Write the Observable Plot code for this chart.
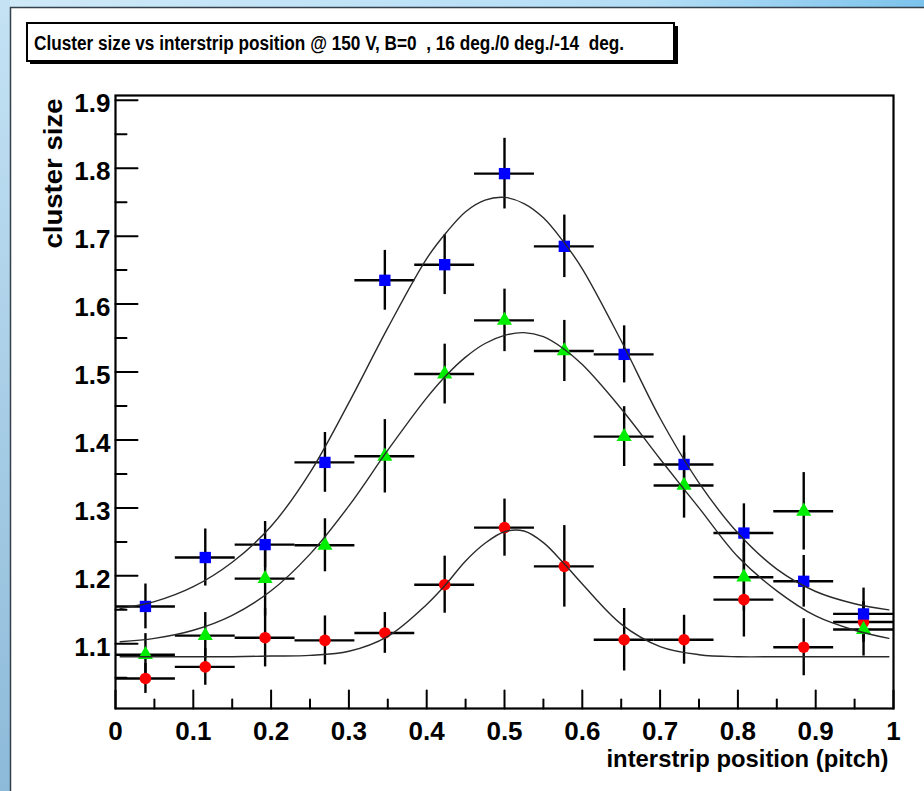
<!DOCTYPE html>
<html><head><meta charset="utf-8">
<script src="https://cdn.jsdelivr.net/npm/d3@7"></script>
<script src="https://cdn.jsdelivr.net/npm/@observablehq/plot@0.6"></script>
<style>
html,body{margin:0;padding:0;background:#fff;}
#chart{position:relative;width:924px;height:791px;overflow:hidden;}
</style></head><body><div id="chart"></div>
<script>
// ---- text ----
const titleText = "Cluster size vs interstrip position @ 150 V, B=0  , 16 deg./0 deg./-14  deg.";
const xTitle = "interstrip position (pitch)";
const yTitle = "cluster size";

// ---- ticks ----
const xMajor = [0, 0.1, 0.2, 0.3, 0.4, 0.5, 0.6, 0.7, 0.8, 0.9, 1.0];
const xTickLabels = ["0", "0.1", "0.2", "0.3", "0.4", "0.5", "0.6", "0.7", "0.8", "0.9", "1"];
const xMinor = [0.05, 0.15, 0.25, 0.35, 0.45, 0.55, 0.65, 0.75, 0.85, 0.95];
const yMajor = [1.1, 1.2, 1.3, 1.4, 1.5, 1.6, 1.7, 1.8, 1.9];
const yTickLabels = ["1.1", "1.2", "1.3", "1.4", "1.5", "1.6", "1.7", "1.8", "1.9"];
const yMinor = [1.05, 1.15, 1.25, 1.35, 1.45, 1.55, 1.65, 1.75, 1.85];
const xDomain = [0, 1];
const yDomain = [1.0048, 1.907];

// ---- data: bin centres, half bin width ----
const binCenters = [0.0385, 0.1154, 0.1923, 0.2692, 0.3462, 0.4231, 0.5, 0.5769, 0.6538, 0.7308, 0.8077, 0.8846, 0.9615];
const binHalf = 0.0385;

// blue squares
const blueY   = [1.155, 1.227, 1.246, 1.367, 1.635, 1.658, 1.792, 1.685, 1.526, 1.364, 1.263, 1.192, 1.144];
const blueErr = [0.033, 0.042, 0.034, 0.044, 0.044, 0.044, 0.052, 0.046, 0.042, 0.042, 0.043, 0.038, 0.038];
// green triangles
const greenY   = [1.084, 1.112, 1.196, 1.245, 1.376, 1.497, 1.576, 1.531, 1.405, 1.333, 1.198, 1.295, 1.121];
const greenErr = [0.031, 0.034, 0.055, 0.039, 0.054, 0.044, 0.046, 0.045, 0.044, 0.048, 0.050, 0.057, 0.039];
// red circles
const redY   = [1.049, 1.066, 1.109, 1.105, 1.116, 1.187, 1.271, 1.214, 1.106, 1.106, 1.165, 1.095, 1.132];
const redErr = [0.022, 0.027, 0.043, 0.036, 0.030, 0.042, 0.042, 0.060, 0.046, 0.036, 0.055, 0.042, 0.030];

// fitted curves
const fitX = [0.006, 0.05, 0.10, 0.15, 0.20, 0.25, 0.30, 0.35, 0.40, 0.425, 0.45, 0.475, 0.50, 0.525, 0.55, 0.575, 0.60, 0.65, 0.70, 0.75, 0.80, 0.85, 0.90, 0.95, 0.994];
const blueFit  = [1.152, 1.162, 1.184, 1.220, 1.273, 1.352, 1.455, 1.565, 1.667, 1.705, 1.736, 1.753, 1.757, 1.748, 1.727, 1.693, 1.652, 1.546, 1.432, 1.337, 1.263, 1.210, 1.177, 1.159, 1.150];
const greenFit = [1.103, 1.108, 1.120, 1.142, 1.178, 1.232, 1.303, 1.385, 1.462, 1.495, 1.522, 1.542, 1.554, 1.558, 1.552, 1.535, 1.511, 1.446, 1.372, 1.300, 1.228, 1.178, 1.141, 1.120, 1.108];
const redFit   = [1.081, 1.081, 1.081, 1.081, 1.082, 1.083, 1.089, 1.111, 1.158, 1.188, 1.222, 1.248, 1.265, 1.266, 1.249, 1.220, 1.188, 1.129, 1.096, 1.084, 1.081, 1.081, 1.081, 1.081, 1.081];

// ---- build tables ----
const rows = (ys, es) => binCenters.map((x, i) => ({x, y: ys[i], e: es[i]}));
const blue = rows(blueY, blueErr), green = rows(greenY, greenErr), red = rows(redY, redErr);
const fit = ys => fitX.map((x, i) => ({x, y: ys[i]}));
const allPts = [...red, ...green, ...blue];

const xLab = new Map(xMajor.map((d, i) => [d, xTickLabels[i]]));
const yLab = new Map(yMajor.map((d, i) => [d, yTickLabels[i]]));

const tickShape = {draw(ctx, l) { ctx.moveTo(0, 0); ctx.lineTo(0, -l); }};
const FONT = "'Liberation Sans', Arial, Helvetica, sans-serif";

const svg = Plot.plot({
  width: 924, height: 791,
  marginLeft: 115, marginRight: 31, marginTop: 95, marginBottom: 83,
  x: {domain: xDomain, axis: null},
  y: {domain: yDomain, axis: null},
  style: {fontFamily: FONT, background: "white", color: "black", overflow: "visible"},
  marks: [
    // error bars
    Plot.ruleY(allPts, {x1: d => d.x - binHalf, x2: d => d.x + binHalf, y: "y", stroke: "black", strokeWidth: 2.4}),
    Plot.ruleX(allPts, {x: "x", y1: d => d.y - d.e, y2: d => d.y + d.e, stroke: "black", strokeWidth: 2.4}),
    // markers
    Plot.dot(red, {x: "x", y: "y", symbol: "circle", r: 5.8, fill: "#ff0000"}),
    Plot.dot(green, {x: "x", y: "y", symbol: "triangle", r: 5.6, fill: "#00ee00"}),
    Plot.dot(blue, {x: "x", y: "y", symbol: "square", r: 6.4, fill: "#0000ff"}),
    // fits
    Plot.line(fit(blueFit), {x: "x", y: "y", curve: "catmull-rom", stroke: "#2a2a2a", strokeWidth: 1.4}),
    Plot.line(fit(greenFit), {x: "x", y: "y", curve: "catmull-rom", stroke: "#2a2a2a", strokeWidth: 1.4}),
    Plot.line(fit(redFit), {x: "x", y: "y", curve: "catmull-rom", stroke: "#2a2a2a", strokeWidth: 1.4}),
    // frame
    Plot.frame({stroke: "black", strokeWidth: 2.2}),
    // inside ticks
    Plot.vector(xMajor, {x: d => d, frameAnchor: "bottom", rotate: 0, length: 18, anchor: "start", shape: tickShape, stroke: "black", strokeWidth: 2}),
    Plot.vector(xMinor, {x: d => d, frameAnchor: "bottom", rotate: 0, length: 9, anchor: "start", shape: tickShape, stroke: "black", strokeWidth: 2}),
    Plot.vector(yMajor, {y: d => d, frameAnchor: "left", rotate: 90, length: 22, anchor: "start", shape: tickShape, stroke: "black", strokeWidth: 2}),
    Plot.vector(yMinor, {y: d => d, frameAnchor: "left", rotate: 90, length: 11, anchor: "start", shape: tickShape, stroke: "black", strokeWidth: 2}),
    // tick labels
    Plot.axisX(xMajor, {anchor: "bottom", label: null, tickSize: 0, tickPadding: 13, tickFormat: d => xLab.get(d), fontSize: 26, fontWeight: "bold", fill: "black"}),
    Plot.axisY(yMajor, {anchor: "left", label: null, tickSize: 0, tickPadding: 5, dy: 3.5, tickFormat: d => yLab.get(d), fontSize: 26, fontWeight: "bold", fill: "black"}),
    // axis titles
    Plot.text([xTitle], {text: d => d, frameAnchor: "bottom-right", textAnchor: "end", lineAnchor: "bottom", dx: -5, dy: 58, fontSize: 24, fontWeight: "bold", fill: "black", className: "xtitle"}),
    Plot.text([yTitle], {text: d => d, frameAnchor: "top-left", textAnchor: "end", lineAnchor: "bottom", rotate: -90, dx: -54, dy: 3, fontSize: 26, fontWeight: "bold", fill: "black", className: "ytitle"})
  ]
});

const s = d3.select(svg);
s.select(".xtitle text").attr("textLength", 282).attr("lengthAdjust", "spacingAndGlyphs");
s.select(".ytitle text").attr("textLength", 150).attr("lengthAdjust", "spacingAndGlyphs");

// window border (decoration)
const defs = s.insert("defs", ":first-child");
const gTop = defs.append("linearGradient").attr("id", "gtop").attr("x1", 0).attr("x2", 1).attr("y1", 0).attr("y2", 0);
gTop.append("stop").attr("offset", "0%").attr("stop-color", "#cfe9f8");
gTop.append("stop").attr("offset", "70%").attr("stop-color", "#b4def6");
gTop.append("stop").attr("offset", "100%").attr("stop-color", "#7cc3ec");
const gLeft = defs.append("linearGradient").attr("id", "gleft").attr("x1", 0).attr("x2", 0).attr("y1", 0).attr("y2", 1);
gLeft.append("stop").attr("offset", "0%").attr("stop-color", "#c4e2f4");
gLeft.append("stop").attr("offset", "100%").attr("stop-color", "#8dbad9");
const deco = s.append("g");
deco.append("rect").attr("x", 0).attr("y", 0).attr("width", 924).attr("height", 7).attr("fill", "url(#gtop)");
deco.append("rect").attr("x", 0).attr("y", 0).attr("width", 10).attr("height", 791).attr("fill", "url(#gleft)");
deco.append("line").attr("x1", 10.5).attr("x2", 10.5).attr("y1", 7).attr("y2", 791).attr("stroke", "#34414d").attr("stroke-width", 1.5);
deco.append("line").attr("x1", 10).attr("x2", 924).attr("y1", 7.5).attr("y2", 7.5).attr("stroke", "#34414d").attr("stroke-width", 1.5);

// title box with shadow
const tb = s.append("g");
tb.append("rect").attr("x", 30).attr("y", 26).attr("width", 648).attr("height", 38).attr("fill", "black");
tb.append("rect").attr("x", 27).attr("y", 23).attr("width", 647).attr("height", 38).attr("fill", "white").attr("stroke", "black").attr("stroke-width", 2);
tb.append("text").attr("x", 34).attr("y", 50).attr("text-anchor", "start").attr("font-family", FONT).attr("font-weight", "bold").attr("font-size", 19.5)
  .attr("textLength", 590).attr("lengthAdjust", "spacingAndGlyphs").attr("fill", "black").text(titleText);

document.getElementById("chart").appendChild(svg);
</script></body></html>
